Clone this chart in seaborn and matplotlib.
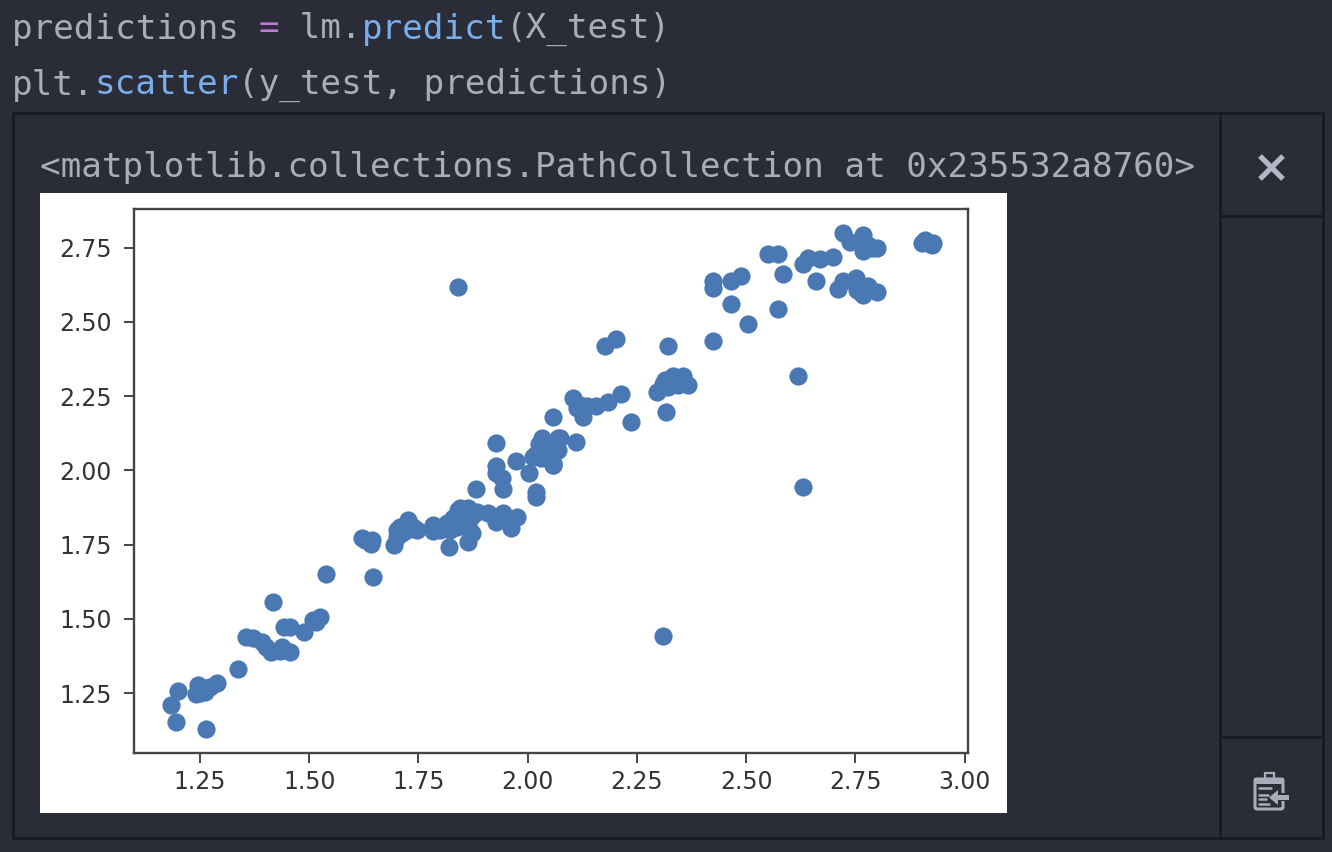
import matplotlib
matplotlib.use("Agg")
import matplotlib.pyplot as plt
from matplotlib.patches import Rectangle, FancyBboxPatch, Polygon
import seaborn as sns
import pandas as pd

# values
y_test = [1.183, 1.199, 1.195, 1.264, 1.24, 1.246, 1.261, 1.273, 1.288, 1.338,
          1.418, 1.355, 1.372, 1.391, 1.412, 1.401, 1.437, 1.455, 1.433, 1.442,
          1.456, 1.487, 1.509, 1.525, 1.516, 1.538, 1.647, 1.62, 1.628, 1.643,
          1.641, 1.693, 1.70, 1.708, 1.727, 1.723, 1.746, 1.784, 1.784, 1.819,
          1.815, 1.841, 1.864, 1.884, 1.853, 1.822, 1.864, 1.868, 1.838, 1.881,
          1.91, 1.927, 1.944, 1.975, 1.961, 1.96, 1.927, 1.927, 1.927, 1.941,
          1.944, 1.973, 2.003, 2.019, 2.019, 2.013, 2.036, 2.059, 2.067, 2.025,
          2.059, 2.043, 2.074, 2.11, 2.059, 2.028, 2.051, 2.065, 2.03, 2.103,
          2.112, 2.127, 2.12, 2.135, 2.156, 2.184, 2.213, 2.178, 2.202, 2.236,
          2.316, 2.322, 2.297, 2.314, 2.322, 2.333, 2.356, 2.345, 2.368, 2.424,
          2.425, 2.425, 2.465, 2.465, 2.488, 2.505, 2.573, 2.619, 2.631, 2.551,
          2.574, 2.585, 2.631, 2.641, 2.669, 2.70, 2.659, 2.71, 2.722, 2.751,
          2.722, 2.739, 2.767, 2.767, 2.799, 2.78, 2.768, 2.78, 2.799, 2.753,
          2.902, 2.917, 2.929, 1.841, 2.31,
          2.032, 2.07, 2.051, 2.07, 2.017, 2.036, 2.059,
          1.845, 1.872, 1.838, 1.864, 1.872, 1.85, 1.83, 1.80,
          1.738, 1.712, 1.70, 2.31, 2.335, 2.35, 2.76, 2.765,
          2.775, 2.79, 1.25, 1.262, 2.91, 2.925]
predictions = [1.21, 1.258, 1.153, 1.129, 1.247, 1.277, 1.266, 1.271, 1.283, 1.331,
               1.558, 1.44, 1.434, 1.423, 1.389, 1.406, 1.406, 1.389, 1.393, 1.473,
               1.473, 1.457, 1.496, 1.507, 1.49, 1.651, 1.642, 1.771, 1.765, 1.765,
               1.752, 1.749, 1.799, 1.81, 1.833, 1.799, 1.799, 1.816, 1.794, 1.743,
               1.822, 1.867, 1.872, 1.861, 1.833, 1.799, 1.76, 1.794, 1.81, 1.937,
               1.855, 1.827, 1.855, 1.844, 1.805, 1.833, 2.091, 2.013, 1.99, 1.973,
               1.936, 2.032, 1.99, 1.928, 1.911, 2.046, 2.057, 2.018, 2.069, 2.09,
               2.181, 2.097, 2.108, 2.097, 2.018, 2.075, 2.052, 2.07, 2.04, 2.245,
               2.209, 2.181, 2.22, 2.215, 2.217, 2.231, 2.257, 2.417, 2.443, 2.164,
               2.198, 2.417, 2.265, 2.304, 2.282, 2.316, 2.316, 2.287, 2.287, 2.434,
               2.636, 2.613, 2.56, 2.636, 2.655, 2.493, 2.544, 2.316, 1.945, 2.728,
               2.728, 2.662, 2.694, 2.714, 2.712, 2.72, 2.636, 2.61, 2.636, 2.647,
               2.798, 2.77, 2.793, 2.737, 2.75, 2.759, 2.591, 2.621, 2.602, 2.608,
               2.767, 2.767, 2.767, 2.618, 1.442,
               2.108, 2.108, 2.086, 2.069, 2.052, 2.046, 2.024,
               1.872, 1.845, 1.822, 1.822, 1.788, 1.85, 1.84, 1.80,
               1.81, 1.79, 1.775, 2.29, 2.295, 2.30, 2.60, 2.61,
               2.745, 2.75, 1.25, 1.255, 2.775, 2.76]
x_ticks = [1.25, 1.50, 1.75, 2.00, 2.25, 2.50, 2.75, 3.00]
y_ticks = [1.25, 1.50, 1.75, 2.00, 2.25, 2.50, 2.75]

W, H = 1332, 852
BG = '#2a2d37'
EDGE = '#181a20'
TXT = '#a9adb9'
BLUE = '#7aaeea'
PURPLE = '#c278dd'
MONO = 'DejaVu Sans Mono'
CHAR = 20.57

sns.set_style("white")
fig = plt.figure(figsize=(W / 100, H / 100), dpi=100, facecolor=BG)

# notebook chrome, in screen pixels
bg = fig.add_axes([0, 0, 1, 1])
bg.set_xlim(0, W)
bg.set_ylim(H, 0)
bg.axis('off')


def code(x0, y, parts):
    col = 0
    for txt, c in parts:
        bg.text(x0 + col * CHAR, y, txt, color=c, family=MONO, fontsize=24.7,
                va='center', ha='left')
        col += len(txt)


code(12, 29, [('predictions ', TXT), ('=', PURPLE), (' lm.', TXT), ('predict', BLUE), ('(X_test)', TXT)])
code(12, 85, [('plt.', TXT), ('scatter', BLUE), ('(y_test, predictions)', TXT)])
code(40, 168, [('<matplotlib.collections.PathCollection at 0x235532a8760>', TXT)])

bg.add_patch(Rectangle((13, 113), 1310, 725, fill=False, ec=EDGE, lw=2))
bg.plot([1220, 1220], [113, 838], color=EDGE, lw=2)
bg.plot([1220, 1323], [216, 216], color=EDGE, lw=2)
bg.plot([1220, 1323], [737, 737], color=EDGE, lw=2)

# close button
bg.plot([1260, 1283], [156, 179], color='#b4b7c3', lw=3.8, solid_capstyle='butt')
bg.plot([1260, 1283], [179, 156], color='#b4b7c3', lw=3.8, solid_capstyle='butt')

# clipboard icon
ICON = '#a9adb9'
bg.add_patch(FancyBboxPatch((1255, 779), 28, 30, boxstyle='round,pad=0,rounding_size=2',
                            fill=False, ec=ICON, lw=2.2))
bg.add_patch(Rectangle((1254, 778), 30, 6, color=ICON, lw=0))
bg.add_patch(Rectangle((1265, 773), 9, 6, fill=False, ec=ICON, lw=1.6))
for yy, x1 in [(788, 1271), (795, 1268), (799, 1266), (804, 1269)]:
    bg.plot([1259, x1], [yy, yy], color=ICON, lw=1.8)
bg.add_patch(Rectangle((1278, 793), 11, 8, color=BG, lw=0))
bg.add_patch(Polygon([[1264, 797.5], [1279, 787], [1279, 808]], color=BG, lw=0))
bg.add_patch(Rectangle((1276, 795), 13, 5, color=ICON, lw=0))
bg.add_patch(Polygon([[1269, 797.5], [1278, 790], [1278, 805]], color=ICON, lw=0))

# white output image
bg.add_patch(Rectangle((40, 193), 967, 620, color='white', lw=0))

# plot area
left, right, top, bottom = 134, 968, 209, 753
ax = fig.add_axes([left / W, 1 - bottom / H, (right - left) / W, (bottom - top) / H], facecolor='white')
df = pd.DataFrame({'y_test': y_test, 'predictions': predictions})
sns.scatterplot(data=df, x='y_test', y='predictions', ax=ax, color='#4a78b3', s=172, linewidth=0, alpha=1)
ax.set_xlim(1.099, 3.008)
ax.set_ylim(1.048, 2.88)
ax.set_xticks(x_ticks)
ax.set_yticks(y_ticks)
ax.set_xticklabels([f'{v:.2f}' for v in x_ticks])
ax.set_yticklabels([f'{v:.2f}' for v in y_ticks])
ax.set_xlabel('')
ax.set_ylabel('')
ax.tick_params(axis='x', length=7, width=1.4, color='#444444', labelcolor='#333333',
               labelsize=17, pad=5, bottom=True)
ax.tick_params(axis='y', length=7, width=1.4, color='#444444', labelcolor='#333333',
               labelsize=17, pad=9, left=True)
for s in ax.spines.values():
    s.set_visible(True)
    s.set_color('#444444')
    s.set_linewidth(1.7)

fig.savefig('out.png', dpi=100, facecolor=BG)
